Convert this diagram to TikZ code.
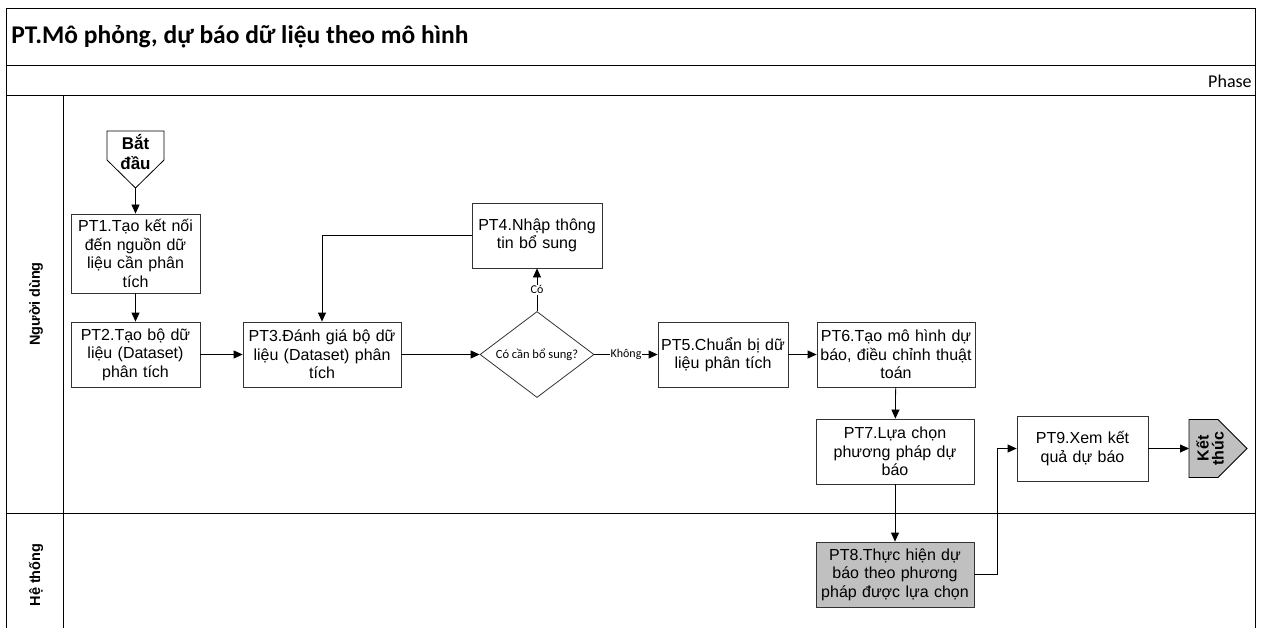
\documentclass[tikz,border=0pt]{standalone}
\usepackage{fontspec}
\setmainfont{Liberation Sans}
\newfontfamily\calibri{Carlito}
\usetikzlibrary{shapes.geometric,arrows.meta}
\definecolor{shade}{RGB}{192,192,192}

\begin{document}
\begin{tikzpicture}[x=1pt, y=-1pt, line width=0.8pt,
  every node/.style={font=\fontsize{16}{18.5}\selectfont, align=center, inner sep=1pt},
  box/.style={draw=black!80, rectangle, minimum width=130pt, minimum height=65pt, text width=124pt},
  wide/.style={box, minimum width=158pt, text width=152pt},
  lbl/.style={fill=white, font=\calibri\fontsize{12}{14}\selectfont},
  arr/.style={-{Triangle[length=9pt,width=8pt]}}]
  \useasboundingbox (0,0) rectangle (1265,628);
  \draw (6,628) -- (6,8) -- (1255,8) -- (1255,628);
  \draw (6,65) -- (1255,65); \draw (6,95) -- (1255,95);
  \draw (63,95) -- (63,628); \draw (6,513) -- (1255,513);

  \node[anchor=west, font=\calibri\bfseries\fontsize{25.5}{30}\selectfont] (title) at (10,37) {PT.Mô phỏng, dự báo dữ liệu theo mô hình};
  \node[anchor=east, font=\calibri\fontsize{18}{21}\selectfont] (phase) at (1253,81) {Phase};
  \node[rotate=90, font=\bfseries\fontsize{14.5}{17}\selectfont] (user) at (36,304) {Người dùng};
  \node[rotate=90, font=\bfseries\fontsize{14.5}{17}\selectfont] (sys) at (36,575) {Hệ thống};

  \draw (107,131) -- (164,131) -- (164,160) -- (135.5,188) -- (107,160) -- cycle;
  \node[font=\bfseries\fontsize{17}{20.5}\selectfont] (start) at (135.5,152) {Bắt\\đầu};
  \coordinate (starttip) at (135.5,188);

  \draw[fill=shade] (1189,419.5) -- (1218,419.5) -- (1247,448.5) -- (1218,477.5) -- (1189,477.5) -- cycle;
  \node[rotate=90, font=\bfseries\fontsize{16}{15}\selectfont] (end) at (1210,448.5) {Kết\\thúc};
  \coordinate (endin) at (1189,448.5);

  \node[box, minimum width=129pt, minimum height=79pt] (pt1) at (135.5,253.5) {PT1.Tạo kết nối\\đến nguồn dữ\\liệu cần phân\\tích};
  \node[box, minimum width=129pt] (pt2) at (135.5,354.5) {PT2.Tạo bộ dữ\\liệu (Dataset)\\phân tích};
  \node[wide] (pt3) at (322,354.5) {PT3.Đánh giá bộ dữ\\liệu (Dataset) phân\\tích};
  \node[box] (pt4) at (537,235.5) {PT4.Nhập thông\\tin bổ sung};
  \node[draw=black!80, diamond, aspect=1.33, minimum width=114pt, minimum height=86pt, inner sep=0pt, font=\calibri\fontsize{12.5}{15}\selectfont] (q) at (537,354.5) {Có cần bổ sung?};
  \node[box] (pt5) at (723,354.5) {PT5.Chuẩn bị dữ\\liệu phân tích};
  \node[wide] (pt6) at (896,354.5) {PT6.Tạo mô hình dự\\báo, điều chỉnh thuật\\toán};
  \node[wide] (pt7) at (895,451.5) {PT7.Lựa chọn\\phương pháp dự\\báo};
  \node[wide, fill=shade] (pt8) at (895,574.5) {PT8.Thực hiện dự\\báo theo phương\\pháp được lựa chọn};
  \node[box, minimum width=131pt] (pt9) at (1082.5,448.5) {PT9.Xem kết\\quả dự báo};

  \draw[arr] (starttip) -- (pt1);
  \draw[arr] (pt1) -- (pt2);
  \draw[arr] (pt2) -- (pt3);
  \draw[arr] (pt3) -- (q);
  \draw[arr] (q) -- node[lbl] (yes) {Có} (pt4);
  \draw[arr] (pt4.west) -| (pt3.north);
  \draw[arr] (q) -- node[lbl] (no) {Không} (pt5);
  \draw[arr] (pt5) -- (pt6);
  \draw[arr] (pt6) -- (pt7);
  \draw[arr] (pt7) -- (pt8);
  \draw[arr] (pt8.east) -- ++(23,0) |- (pt9.west);
  \draw[arr] (pt9) -- (endin);
\end{tikzpicture}
\end{document}
